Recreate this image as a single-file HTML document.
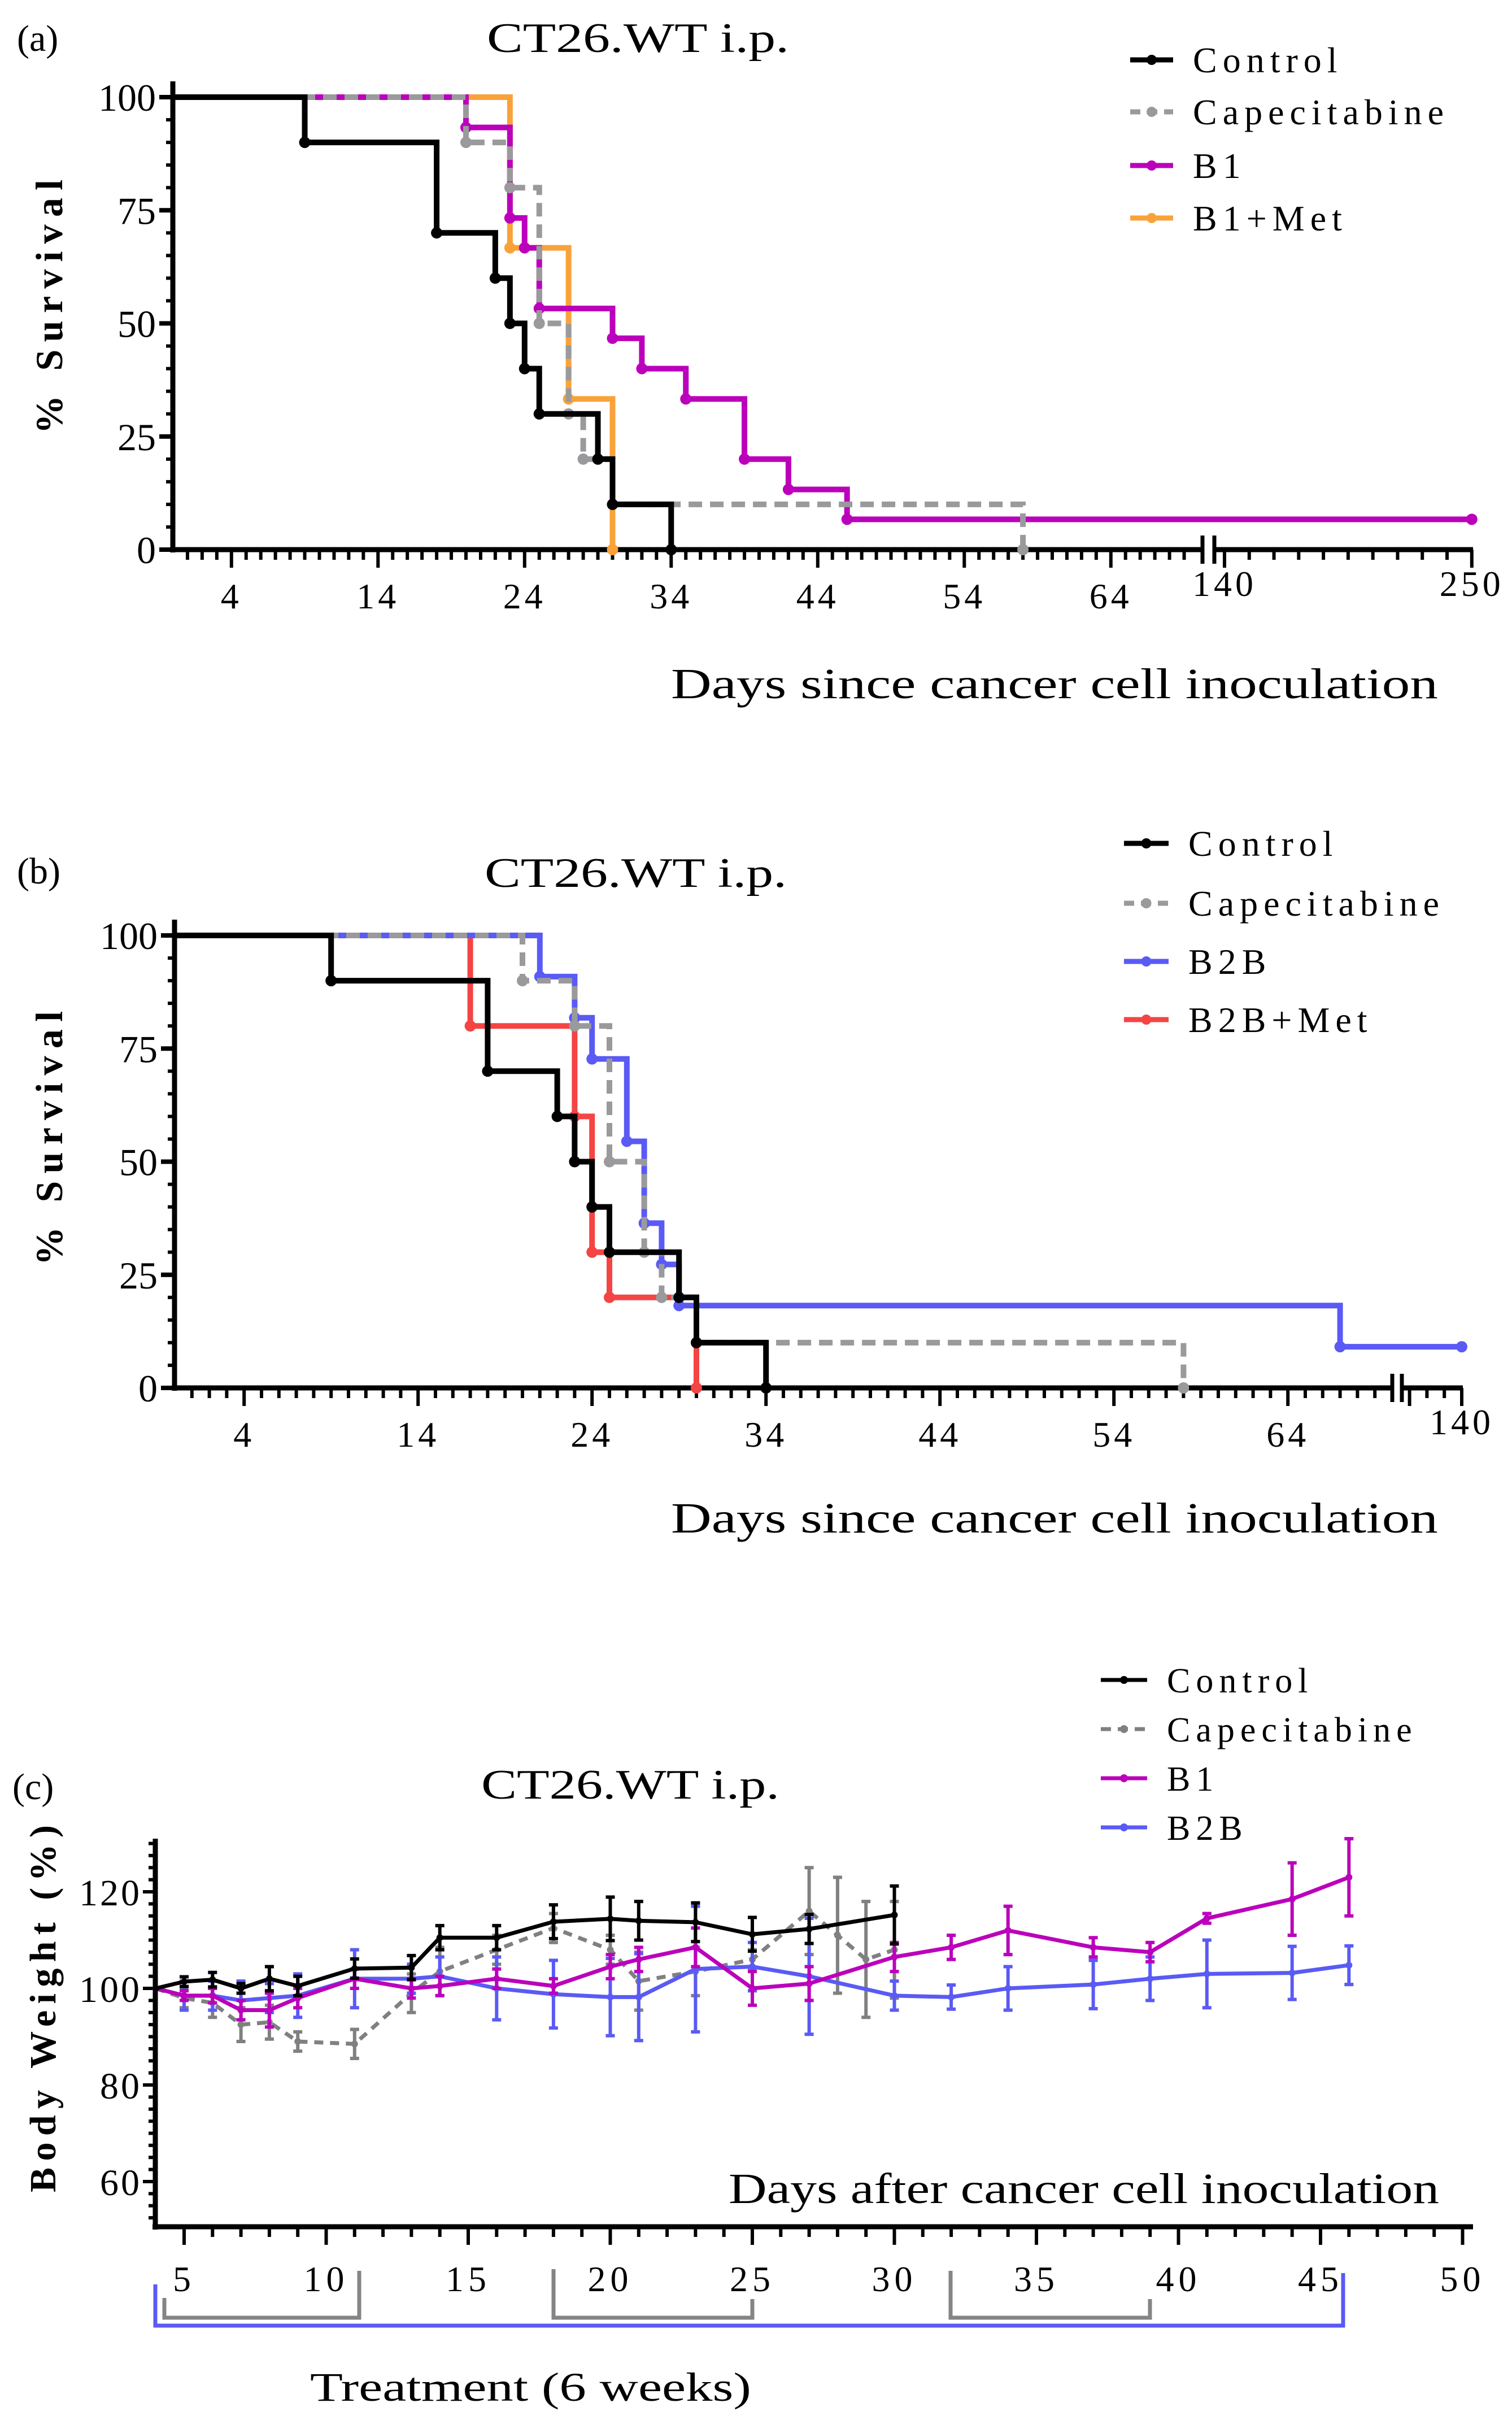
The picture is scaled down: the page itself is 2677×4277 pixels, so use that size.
<!DOCTYPE html>
<html><head><meta charset="utf-8"><style>
html,body{margin:0;padding:0;background:#fff;}
svg{display:block;}
text{font-family:"Liberation Serif",serif;fill:#000;}
</style></head><body>
<svg id="fig" xmlns="http://www.w3.org/2000/svg" width="2677" height="4277" viewBox="0 0 2677 4277">
<rect x="0" y="0" width="2677" height="4277" fill="#fff"/>
<text x="30" y="90" font-size="66">(a)</text>
<text x="862" y="92" font-size="74" textLength="535" lengthAdjust="spacingAndGlyphs">CT26.WT i.p.</text>
<text x="30" y="1564" font-size="66">(b)</text>
<text x="858" y="1570" font-size="74" textLength="535" lengthAdjust="spacingAndGlyphs">CT26.WT i.p.</text>
<text x="22" y="3185" font-size="66">(c)</text>
<text x="852" y="3184" font-size="74" textLength="528" lengthAdjust="spacingAndGlyphs">CT26.WT i.p.</text>
<text transform="translate(110,543) rotate(-90)" text-anchor="middle" font-size="68" font-weight="bold" textLength="450" lengthAdjust="spacing">% Survival</text>
<text transform="translate(110,2015) rotate(-90)" text-anchor="middle" font-size="68" font-weight="bold" textLength="450" lengthAdjust="spacing">% Survival</text>
<text transform="translate(98,3556) rotate(-90)" text-anchor="middle" font-size="66" font-weight="bold" textLength="650" lengthAdjust="spacing">Body Weight (%)</text>
<text x="1188" y="1236" font-size="76" textLength="1358" lengthAdjust="spacingAndGlyphs">Days since cancer cell inoculation</text>
<text x="1188" y="2713" font-size="76" textLength="1358" lengthAdjust="spacingAndGlyphs">Days since cancer cell inoculation</text>
<text x="1290" y="3900" font-size="76" textLength="1258" lengthAdjust="spacingAndGlyphs">Days after cancer cell inoculation</text>
<text x="549" y="4250" font-size="72" textLength="781" lengthAdjust="spacingAndGlyphs">Treatment (6 weeks)</text>
<g id="layer"></g>
</svg>
<script>
// ---------- Panel (a) survival data ----------
const aCtrlT = [9,18,22,23,24,25,29,30,34];
const aCtrlS = [90,70,60,50,40,30,20,10,0];
const aCapeT = [20,23,25,27,28,30,58];
const aCapeS = [90,80,50,30,20,10,0];
const aB1T = [20,23,24,25,30,32,35,39,42,46];
const aB1S = [93.3,73.3,66.7,53.3,46.7,40,33.3,20,13.3,6.7];
const aB1End = 250;
const aMetT = [23,27,30];
const aMetS = [66.7,33.3,0];
const aXTicks = [4,14,24,34,44,54,64,140,250];
const yTicksSurv = [0,25,50,75,100];
// ---------- Panel (b) survival data ----------
const bCtrlT = [9,18,22,23,24,25,29,30,34];
const bCtrlS = [90,70,60,50,40,30,20,10,0];
const bCapeT = [20,23,25,27,28,30,58];
const bCapeS = [90,80,50,30,20,10,0];
const bB2BT = [21,23,24,26,27,28,29,67];
const bB2BS = [90.9,81.8,72.7,54.5,36.4,27.3,18.2,9.1];
const bB2BEnd = 140;
const bMetT = [17,23,24,25,30];
const bMetS = [80,60,30,20,0];
const bXTicks = [4,14,24,34,44,54,64,140];
// ---------- Panel (c) body weight data ----------
const ctrlDays = [4,5,6,7,8,9,11,13,14,16,18,20,21,23,25,27,30];
const ctrlMean = [100,101.4,101.8,100,102,100.5,104.1,104.3,110.5,110.5,113.8,114.4,114,113.7,111.2,112.3,115.2];
const ctrlErr = [0,1,1.5,1,2.5,2,2,2.5,2.5,2.5,3.5,4.5,4,4,3.5,3,6];
const capeDays = [4,5,6,7,8,9,11,13,14,16,18,20,21,23,25,27,28,29,30];
const capeMean = [100,98,97,92.5,93,89,88.5,99,103.5,108,112.5,108,101.5,103.5,106,116,111,106,108];
const capeErr = [0,2,3,3.5,3.5,2,3,4,5,3,3,3,6,5,2,9,12,12,10];
const b1Days = [4,5,6,7,8,9,11,13,14,16,18,20,21,23,25,27,30,32,34,37,39,41,44,46];
const b1Mean = [100,98.5,98.5,95.5,95.5,98,102,100,100.5,102,100.5,104.5,106,108.5,100,101,106.5,108.5,112,108.5,107.5,114.5,118.5,123];
const b1Err = [0,1,1.5,2,3.5,2,2,2,2,2,1.5,2.5,2.5,4,3.5,3.5,3,2.5,5,2,2,1,7.5,8];
const b2bDays = [4,5,6,7,8,9,11,13,14,16,18,20,21,23,25,27,30,32,34,37,39,41,44,46];
const b2bMean = [100,98.5,98.5,97.5,98,98.5,102,102,102.5,100,98.8,98.2,98.2,104,104.5,102.5,98.5,98.2,100,100.8,102,103,103.2,104.8];
const b2bErr = [0,3,3,4,3,4.5,6,3,4,6.5,7,8,9,13,5,12,3,2.5,4.5,5,4.5,7,5.5,4];
const cXTicks = [5,10,15,20,25,30,35,40,45,50];
const cYTicks = [60,80,100,120];

const NS = "http://www.w3.org/2000/svg";
const layer = document.getElementById('layer');
function mk(tag, attrs, parent){
  const e = document.createElementNS(NS, tag);
  for (const k in attrs) e.setAttribute(k, attrs[k]);
  (parent||layer).appendChild(e);
  return e;
}
function line(x1,y1,x2,y2,stroke,w,parent){ return mk('line',{x1,y1,x2,y2,stroke,'stroke-width':w,'stroke-linecap':'butt'},parent); }

function xA(d){ return d<=70 ? 306 + d*25.95 : 2168 + (d-140)*3.98; }
function yA(s){ return 973 - s*8.01; }
function xB(d){ return d<=70 ? 309 + d*30.8 : 2588 - (140-d)*30.8; }
function yB(s){ return 2457 - s*8.01; }
function xC(d){ return 326 + (d-5)*50.3; }
function yC(v){ return 3520 - (v-100)*8.55; }

function survAxes(prefix, xs, ys, y0, ticks, seg1End, seg2Start, seg2End, seg2Lo, seg2Hi, seg2Step){
  const g = mk('g',{});
  
  
  const left = xs(0);
  line(left, ys(0)+5, left, ys(100)-28, '#000', 9, g);
  for (let v=0; v<=100; v+=5){
    const major = v%25===0;
    line(left, ys(v), left-(major?24:12), ys(v), '#000', major?8:6, g);
  }
  for (const v of yTicksSurv){
    const t = mk('text',{x:left-30,y:ys(v)+24,'text-anchor':'end','font-size':68},g);
    t.textContent = v;
    
    
  }
  line(left-5, y0, seg1End, y0, '#000', 9, g);
  line(seg2Start, y0, seg2End, y0, '#000', 9, g);
  line(seg1End, y0-25, seg1End, y0+25, '#000', 7, g);
  line(seg2Start, y0-25, seg2Start, y0+25, '#000', 7, g);
  for (let d=1; xs(d)<seg1End-4 && d<70; d++){
    const major = (d-4)%10===0;
    line(xs(d), y0, xs(d), y0+(major?32:18), '#000', 6, g);
  }
  for (let d=seg2Lo; d<=seg2Hi+0.01; d+=seg2Step){
    const major = (d===seg2Lo||Math.abs(d-seg2Hi)<0.01);
    line(xs(d), y0, xs(d), y0+(major?32:18), '#000', 6, g);
  }
  for (const d of ticks){
    const t = mk('text',{x:xs(d),y:y0+(d>=140?82:104),'text-anchor':'middle','font-size':64,'letter-spacing':6},g);
    t.textContent = d;
    
    
  }
}
survAxes('a', xA, yA, 973, aXTicks, 2129, 2150, 2608, 140, 250, 11);
survAxes('b', xB, yB, 2457, bXTicks, 2465, 2482, 2590, 137, 140, 1);

function survCurve(name, xs, ys, T, S, endT, color, dashed){
  const g = mk('g',{});
  
  
  let prev = 100, d = 'M'+xs(0)+','+ys(100);
  for (let i=0;i<T.length;i++){
    d += ' L'+xs(T[i])+','+ys(prev)+' L'+xs(T[i])+','+ys(S[i]);
    prev = S[i];
  }
  if (endT!==null) d += ' L'+xs(endT)+','+ys(prev);
  const p = mk('path',{d,fill:'none',stroke:color,'stroke-width':10,'stroke-dasharray':dashed?'24 14':'none'},g);
  
  
  for (let i=0;i<T.length;i++){
    const c = mk('circle',{cx:xs(T[i]),cy:ys(S[i]),r:10,fill:color},g);
    
    
  }
  if (endT!==null){
    const c = mk('circle',{cx:xs(endT),cy:ys(prev),r:10,fill:color},g);
    
    
  }
}
const BLK='#000', GRY='#9a9a9c', MAG='#bb00bb', ORG='#f9a23a', BLU='#5a5af5', RED='#f44444';
survCurve('a-b1-met-curve', xA, yA, aMetT, aMetS, null, ORG, false);
survCurve('a-b1-curve', xA, yA, aB1T, aB1S, aB1End, MAG, false);
survCurve('a-capecitabine-curve', xA, yA, aCapeT, aCapeS, null, GRY, true);
survCurve('a-control-curve', xA, yA, aCtrlT, aCtrlS, null, BLK, false);
survCurve('b-b2b-met-curve', xB, yB, bMetT, bMetS, null, RED, false);
survCurve('b-b2b-curve', xB, yB, bB2BT, bB2BS, bB2BEnd, BLU, false);
survCurve('b-capecitabine-curve', xB, yB, bCapeT, bCapeS, null, GRY, true);
survCurve('b-control-curve', xB, yB, bCtrlT, bCtrlS, null, BLK, false);

function legend(prefix, x1, x2, tx, ys, labels, colors, dashes, fs, lw){
  for (let i=0;i<labels.length;i++){
    const g = mk('g',{});
    
    
    mk('line',{x1,y1:ys[i],x2,y2:ys[i],stroke:colors[i],'stroke-width':lw,'stroke-dasharray':dashes[i]?'18 12':'none'},g);
    mk('circle',{cx:(x1+x2)/2,cy:ys[i],r:lw,fill:colors[i]},g);
    const t = mk('text',{x:tx,y:ys[i]+22,'font-size':fs,'letter-spacing':10},g);
    t.textContent = labels[i];
  }
}
legend('a', 2001, 2077, 2112, [106,198,293,386], ['Control','Capecitabine','B1','B1+Met'], [BLK,GRY,MAG,ORG], [0,1,0,0], 64, 9);
legend('b', 1990, 2069, 2104, [1493,1599,1702,1805], ['Control','Capecitabine','B2B','B2B+Met'], [BLK,GRY,BLU,RED], [0,1,0,0], 64, 9);
legend('c', 1949, 2031, 2066, [2974,3061,3148,3235], ['Control','Capecitabine','B1','B2B'], [BLK,'#808080',MAG,BLU], [0,1,0,0], 62, 7);

(function(){
  const g = mk('g',{});
  
  
  const left = 275, bottom = 3942;
  line(left, bottom+5, left, 3255, '#000', 9, g);
  line(left-5, bottom, 2608, bottom, '#000', 9, g);
  for (let v=52.5; v<=130; v+=2.5){
    const major = v%20===0;
    line(left, yC(v), left-(major?22:12), yC(v), '#000', 6, g);
  }
  for (const v of cYTicks){
    const t = mk('text',{x:left-24,y:yC(v)+24,'text-anchor':'end','font-size':66,'letter-spacing':4},g);
    t.textContent = v;
    
    
  }
  for (let d=5; d<=50; d++){
    const major = d%5===0;
    line(xC(d), bottom, xC(d), bottom+(major?32:18), '#000', 6, g);
  }
  for (const d of cXTicks){
    const t = mk('text',{x:xC(d),y:4056,'text-anchor':'middle','font-size':64,'letter-spacing':8},g);
    t.textContent = d;
    
    
  }
  const br = [[291,636,4068,4020],[980,1332,4017,4070],[1683,2036,4020,4070]];
  for (const b of br){
    const p = mk('path',{d:'M'+b[0]+','+b[2]+' L'+b[0]+',4103 L'+b[1]+',4103 L'+b[1]+','+b[3],fill:'none',stroke:'#858585','stroke-width':7},g);
    
    
  }
  const bl = mk('path',{d:'M275,4044 L275,4117 L2378,4117 L2378,4024',fill:'none',stroke:BLU,'stroke-width':7},g);
  
  
})();

function weightSeries(name, days, mean, err, color, dashed){
  const g = mk('g',{});
  
  
  for (let i=0;i<days.length;i++){
    if (!err[i]) continue;
    const x = xC(days[i]);
    const e = mk('path',{d:'M'+x+','+yC(mean[i]-err[i])+' L'+x+','+yC(mean[i]+err[i])+' M'+(x-8)+','+yC(mean[i]-err[i])+' L'+(x+8)+','+yC(mean[i]-err[i])+' M'+(x-8)+','+yC(mean[i]+err[i])+' L'+(x+8)+','+yC(mean[i]+err[i]),fill:'none',stroke:color,'stroke-width':6},g);
    
    
  }
  let d = '';
  for (let i=0;i<days.length;i++) d += (i?' L':'M')+xC(days[i])+','+yC(mean[i]);
  const p = mk('path',{d,fill:'none',stroke:color,'stroke-width':7,'stroke-dasharray':dashed?'16 12':'none','stroke-linejoin':'round'},g);
  
  
  for (let i=0;i<days.length;i++){
    const c = mk('circle',{cx:xC(days[i]),cy:yC(mean[i]),r:6,fill:color},g);
    
    
  }
}
weightSeries('c-capecitabine-series', capeDays, capeMean, capeErr, '#808080', true);
weightSeries('c-b2b-series', b2bDays, b2bMean, b2bErr, BLU, false);
weightSeries('c-b1-series', b1Days, b1Mean, b1Err, MAG, false);
weightSeries('c-control-series', ctrlDays, ctrlMean, ctrlErr, BLK, false);
</script>
</body></html>
